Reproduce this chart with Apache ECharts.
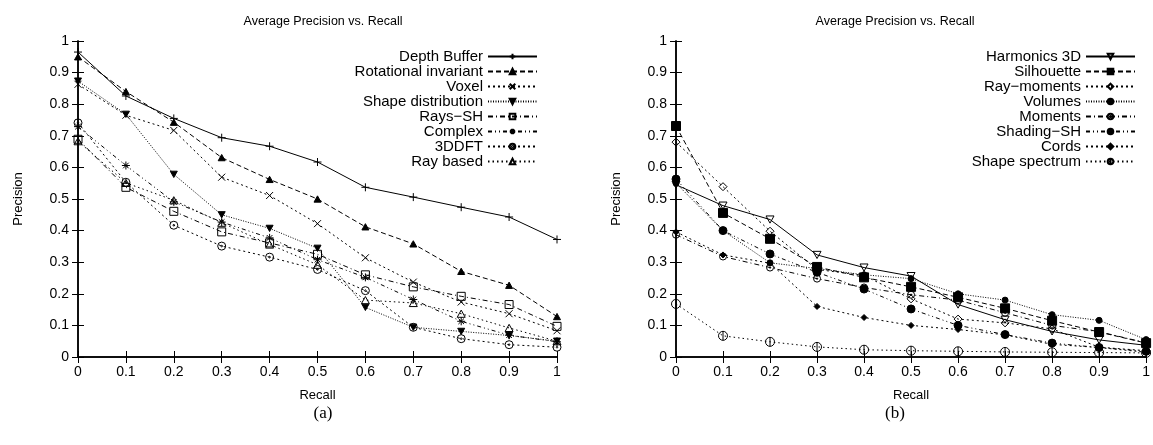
<!DOCTYPE html>
<html><head><meta charset="utf-8">
<script src="https://cdn.jsdelivr.net/npm/echarts@6/dist/echarts.min.js"></script>
<style>html,body{margin:0;padding:0;background:#fff}#c{width:1153px;height:445px}</style>
</head><body><div id="c"></div>
<script>
const recall = [0,0.1,0.2,0.3,0.4,0.5,0.6,0.7,0.8,0.9,1];
const ticksY = [0,0.1,0.2,0.3,0.4,0.5,0.6,0.7,0.8,0.9,1];
const titleText = 'Average Precision vs. Recall';
const captions = ['(a)','(b)'];

// Chart (a)
const depthBuffer   = [0.965,0.826,0.755,0.694,0.667,0.617,0.537,0.506,0.474,0.443,0.372];
const rotInvariant  = [0.950,0.840,0.743,0.631,0.562,0.500,0.412,0.358,0.271,0.227,0.128];
const voxel         = [0.863,0.765,0.717,0.569,0.511,0.422,0.314,0.237,0.174,0.137,0.083];
const shapeDist     = [0.873,0.768,0.578,0.450,0.407,0.344,0.157,0.094,0.081,0.068,0.050];
const raysSH        = [0.689,0.537,0.461,0.396,0.361,0.325,0.260,0.222,0.192,0.166,0.097];
const complexS      = [0.729,0.606,0.491,0.427,0.377,0.308,0.252,0.182,0.113,0.069,0.048];
const dft3d         = [0.741,0.553,0.417,0.351,0.316,0.277,0.210,0.094,0.058,0.039,0.031];
const rayBased      = [0.683,0.551,0.496,0.425,0.356,0.292,0.180,0.171,0.137,0.092,0.050];

// Chart (b)
const harmonics3D   = [0.545,0.479,0.435,0.323,0.283,0.256,0.166,0.118,0.081,0.054,0.037];
const silhouette    = [0.731,0.456,0.374,0.285,0.252,0.222,0.189,0.154,0.115,0.079,0.044];
const rayMoments    = [0.680,0.539,0.398,0.277,0.258,0.184,0.120,0.108,0.089,0.031,0.020];
const volumes       = [0.550,0.400,0.298,0.280,0.260,0.248,0.200,0.180,0.134,0.116,0.055];
const moments       = [0.387,0.318,0.283,0.248,0.220,0.197,0.180,0.140,0.100,0.080,0.045];
const shadingSH     = [0.563,0.400,0.326,0.268,0.215,0.152,0.100,0.071,0.044,0.030,0.018];
const cords         = [0.396,0.323,0.297,0.160,0.125,0.100,0.087,0.070,0.040,0.030,0.015];
const shapeSpectrum = [0.168,0.067,0.048,0.032,0.023,0.020,0.018,0.016,0.015,0.014,0.013];

const SYM = {
  plus: 'path://M5,0L5,10M0,5L10,5',
  cross: 'path://M0,0L10,10M10,0L0,10',
  star: 'path://M5,0L5,10M0,5L10,5M1.5,1.5L8.5,8.5M8.5,1.5L1.5,8.5',
  tri: 'path://M5,0L10,9L0,9Z',
  itri: 'path://M0,0L10,0L5,9Z',
  circDot: 'path://M0,5A5,5,0,1,1,10,5A5,5,0,1,1,0,5ZM4,5A1,1,0,1,1,6,5A1,1,0,1,1,4,5Z',
  circBar: 'path://M0,5A5,5,0,1,1,10,5A5,5,0,1,1,0,5ZM5,0L5,10'
};

const chartA = [
  {name:'Depth Buffer', data:depthBuffer, dash:'solid', sym:SYM.plus, size:8, fill:'#000'},
  {name:'Rotational invariant', data:rotInvariant, dash:[5,3], sym:SYM.tri, size:7, fill:'#000'},
  {name:'Voxel', data:voxel, dash:[2,3], sym:SYM.cross, size:7, fill:'#000'},
  {name:'Shape distribution', data:shapeDist, dash:[1,1.5], sym:SYM.itri, size:7, fill:'#000'},
  {name:'Rays\u2212SH', data:raysSH, dash:[5,3,1,3], sym:'rect', size:8, fill:'rgba(0,0,0,0)'},
  {name:'Complex', data:complexS, dash:[4,3,1,3,1,3], sym:SYM.star, size:8, fill:'#000'},
  {name:'3DDFT', data:dft3d, dash:[2,3], sym:SYM.circDot, size:8, fill:'rgba(0,0,0,0)'},
  {name:'Ray based', data:rayBased, dash:[1.5,3], sym:SYM.tri, size:8, fill:'rgba(0,0,0,0)'}
];
const chartB = [
  {name:'Harmonics 3D', data:harmonics3D, dash:'solid', sym:SYM.itri, size:8, fill:'rgba(0,0,0,0)'},
  {name:'Silhouette', data:silhouette, dash:[5,3], sym:'rect', size:9, fill:'#000'},
  {name:'Ray\u2212moments', data:rayMoments, dash:[2,3], sym:'diamond', size:8, fill:'rgba(0,0,0,0)'},
  {name:'Volumes', data:volumes, dash:[1,1.5], sym:'circle', size:6, fill:'#000'},
  {name:'Moments', data:moments, dash:[5,3,1,3], sym:SYM.circDot, size:7, fill:'rgba(0,0,0,0)'},
  {name:'Shading\u2212SH', data:shadingSH, dash:[4,3,1,3,1,3], sym:'circle', size:8, fill:'#000'},
  {name:'Cords', data:cords, dash:[2,3], sym:'diamond', size:6, fill:'#000'},
  {name:'Shape spectrum', data:shapeSpectrum, dash:[1.5,3], sym:SYM.circBar, size:9, fill:'rgba(0,0,0,0)'}
];

const FONT = 'Liberation Sans, Arial, sans-serif';
const grids = [
  {left:78, right:596, top:41, bottom:88},
  {left:676, right:2, top:41, bottom:88}
];
const AXW = 1.5;
const xAxes = [], yAxes = [];
grids.forEach((g, i) => {
  xAxes.push({type:'value', gridIndex:i, min:0, max:1, interval:0.1, position:'bottom',
    name:'Recall', nameLocation:'middle', nameGap:32,
    nameTextStyle:{fontFamily:FONT, fontSize:13, color:'#000'},
    axisLine:{show:true, lineStyle:{color:'#000', width:AXW}},
    axisTick:{show:true, inside:true, length:6, lineStyle:{color:'#000'}},
    axisLabel:{fontFamily:FONT, fontSize:14, color:'#000', margin:8,
      formatter: v => String(Math.round(v*10)/10)},
    splitLine:{show:false}});
  xAxes.push({type:'value', gridIndex:i, min:0, max:1, interval:0.1, position:'top',
    axisLine:{show:true, lineStyle:{color:'#000', width:AXW}},
    axisTick:{show:true, inside:true, length:6, lineStyle:{color:'#000'}},
    axisLabel:{show:false}, splitLine:{show:false}});
  yAxes.push({type:'value', gridIndex:i, min:0, max:1, interval:0.1, position:'left',
    name:'Precision', nameLocation:'middle', nameGap:53, nameRotate:90,
    nameTextStyle:{fontFamily:FONT, fontSize:13, color:'#000'},
    axisLine:{show:true, lineStyle:{color:'#000', width:AXW}},
    axisTick:{show:true, inside:true, length:6, lineStyle:{color:'#000'}},
    axisLabel:{fontFamily:FONT, fontSize:14, color:'#000', margin:9,
      formatter: v => String(Math.round(v*10)/10)},
    splitLine:{show:false}});
  yAxes.push({type:'value', gridIndex:i, min:0, max:1, interval:0.1, position:'right',
    axisLine:{show:true, lineStyle:{color:'#000', width:AXW}},
    axisTick:{show:true, inside:true, length:6, lineStyle:{color:'#000'}},
    axisLabel:{show:false}, splitLine:{show:false}});
});

function mkSeries(list, gi) {
  return list.map(s => ({
    type:'line', name:s.name, xAxisIndex:gi*2, yAxisIndex:gi*2,
    data: recall.map((r, k) => [r, s.data[k]]),
    symbol:s.sym, symbolSize:s.size, symbolKeepAspect:true, showSymbol:true,
    lineStyle:{color:'#000', width:1, type:s.dash},
    itemStyle:{color:s.fill, borderColor:'#000', borderWidth:1},
    emphasis:{disabled:true}, silent:true, clip:false
  }));
}

const legendBase = {orient:'vertical', align:'right', top:49, itemWidth:49, itemHeight:7, itemGap:0,
  textStyle:{fontFamily:FONT, fontSize:15, color:'#000', lineHeight:14.86}, selectedMode:false, padding:0};

const option = {
  animation:false,
  title:[
    {text:titleText, left:318, top:10, textAlign:'center', textStyle:{fontFamily:FONT, fontSize:12.5, fontWeight:'normal', color:'#000'}},
    {text:titleText, left:890, top:10, textAlign:'center', textStyle:{fontFamily:FONT, fontSize:12.5, fontWeight:'normal', color:'#000'}},
    {text:captions[0], left:318, top:400, textAlign:'center', textStyle:{fontFamily:'Liberation Serif, serif', fontSize:17, fontWeight:'normal', color:'#000'}},
    {text:captions[1], left:890, top:400, textAlign:'center', textStyle:{fontFamily:'Liberation Serif, serif', fontSize:17, fontWeight:'normal', color:'#000'}}
  ],
  grid:grids,
  xAxis:xAxes, yAxis:yAxes,
  legend:[
    Object.assign({}, legendBase, {right:615, data:chartA.map(s=>s.name)}),
    Object.assign({}, legendBase, {right:17, data:chartB.map(s=>s.name)})
  ],
  series:[...mkSeries(chartA,0), ...mkSeries(chartB,1)]
};
const chart = echarts.init(document.getElementById('c'), null, {renderer:'canvas'});
chart.setOption(option);
</script></body></html>
